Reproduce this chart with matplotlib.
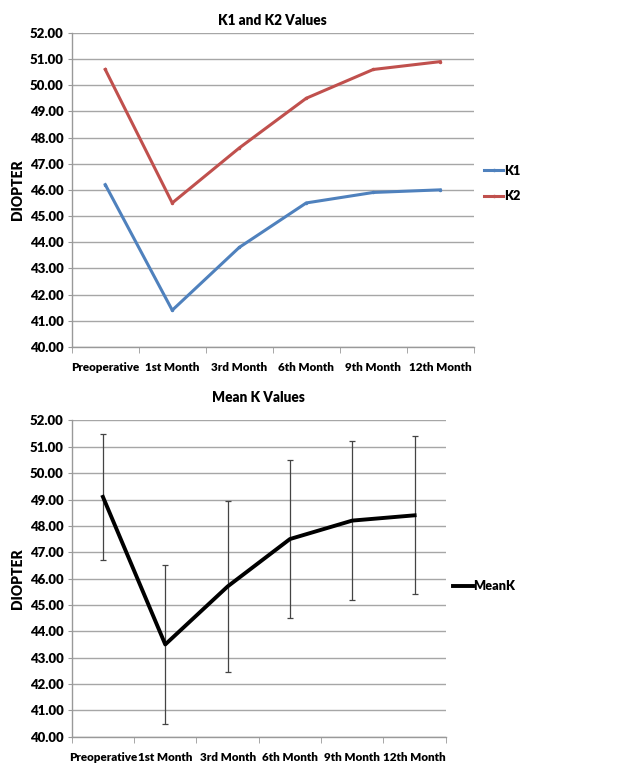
import numpy as np
import matplotlib
matplotlib.use('Agg')
import matplotlib.pyplot as plt
from matplotlib.lines import Line2D

plt.rcParams['font.family'] = ['Lato', 'DejaVu Sans']
plt.rcParams['font.weight'] = 'heavy'

months = ['Preoperative', '1st Month', '3rd Month', '6th Month', '9th Month', '12th Month']
k1 = [46.2, 41.4, 43.8, 45.5, 45.9, 46.0]
k2 = [50.6, 45.5, 47.6, 49.5, 50.6, 50.9]
mean_k = [49.1, 43.5, 45.7, 47.5, 48.2, 48.4]
mean_k_sd = [2.4, 3.0, 3.25, 3.0, 3.02, 3.0]
yticks = np.arange(40, 53, 1)

W = 'heavy'


def style_axes(ax, title, title_pad):
    x = np.arange(len(months))
    ax.set_xlim(-0.5, len(months) - 0.5)
    ax.set_ylim(40, 52)
    ax.set_yticks(yticks)
    ax.set_yticklabels(['%.2f' % v for v in yticks], fontsize=9.5, fontweight=W)
    ax.set_xticks(x)
    ax.set_xticklabels(months, fontsize=8.4, fontweight=W)
    ax.set_xticks(np.arange(-0.5, len(months)), minor=True)
    ax.tick_params(axis='x', which='major', length=0, pad=11)
    ax.tick_params(axis='x', which='minor', length=4, color='#999999')
    ax.tick_params(axis='y', length=3, color='#999999', pad=3)
    ax.grid(axis='y', color='#a6a6a6', linewidth=1)
    ax.set_axisbelow(True)
    for s in ['top', 'right']:
        ax.spines[s].set_visible(False)
    for s in ['left', 'bottom']:
        ax.spines[s].set_color('#999999')
        ax.spines[s].set_linewidth(1)
    ax.set_ylabel('DIOPTER', fontsize=10, fontweight=W, labelpad=4)
    ax.set_title(title, fontsize=9.8, fontweight=W, pad=title_pad)


fig = plt.figure(figsize=(6.35, 7.64), dpi=100)
x = np.arange(len(months))

ax1 = fig.add_axes([0.113, 0.546, 0.633, 0.411])
ax1.plot(x, k1, color='#4F81BD', linewidth=2.2, marker='.', markersize=3, label='K1')
ax1.plot(x, k2, color='#C0504D', linewidth=2.2, marker='.', markersize=3, label='K2')
style_axes(ax1, 'K1 and K2 Values', 6)
ax1.legend(loc='center left', bbox_to_anchor=(1.0, 0.52), frameon=False,
           prop={'size': 9.2, 'weight': W}, handlelength=1.5, handletextpad=0.05,
           labelspacing=1.05, borderaxespad=0.4)

ax2 = fig.add_axes([0.113, 0.0357, 0.589, 0.414])
ax2.errorbar(x, mean_k, yerr=mean_k_sd, fmt='none', ecolor='#444444',
             elinewidth=0.9, capsize=2.5, capthick=0.9)
ax2.plot(x, mean_k, color='black', linewidth=2.8)
style_axes(ax2, 'Mean K Values', 13)
ax2.legend(handles=[Line2D([], [], color='black', linewidth=2.8)], labels=['MeanK'],
           loc='center left', bbox_to_anchor=(1.0, 0.475), frameon=False,
           prop={'size': 9.2, 'weight': W}, handlelength=1.5, handletextpad=0.05,
           borderaxespad=0.2)

fig.savefig('out.png', dpi=100)
